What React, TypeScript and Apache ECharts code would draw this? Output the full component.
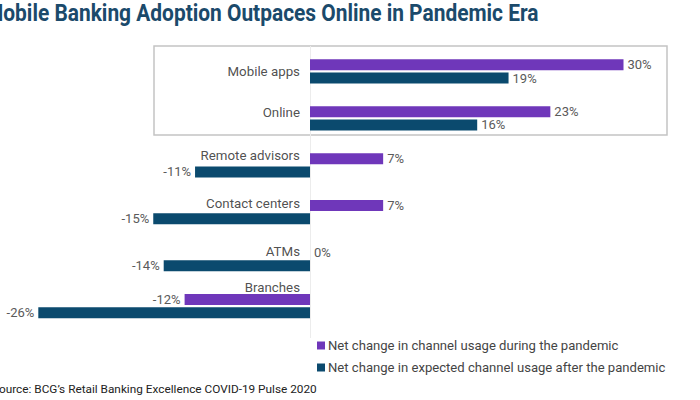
import React, { useEffect, useRef } from "react";
import * as echarts from "echarts";

const categories = ["Mobile apps", "Online", "Remote advisors", "Contact centers", "ATMs", "Branches"];
const duringValues = [30, 23, 7, 7, 0, -12];
const afterValues = [19, 16, -11, -15, -14, -26];
const seriesNames = [
  "Net change in channel usage during the pandemic",
  "Net change in expected channel usage after the pandemic",
];
const titleText = "Mobile Banking Adoption Outpaces Online in Pandemic Era";
const sourceText = "Source: BCG\u2019s Retail Banking Excellence COVID-19 Pulse 2020";

const labelOffsets = [0, -6, -10, -9, -8, -19];

const PURPLE = "#6f37ba";
const TEAL = "#0b4a6e";

export default function App() {
  const ref = useRef<HTMLDivElement>(null);
  useEffect(() => {
    if (!ref.current) return;
    const chart = echarts.init(ref.current, undefined, { renderer: "svg" });
    const valLabel = (v: number) => ({
      value: v,
      label: { position: v < 0 ? "left" : "right" },
    });
    chart.setOption({
      animation: false,
      textStyle: { fontFamily: "Roboto" },
      grid: { left: 17.4, right: 34.7, top: 48, bottom: 70.5, containLabel: false },
      xAxis: {
        type: "value",
        min: -28,
        max: 34,
        show: false,
      },
      yAxis: {
        type: "category",
        data: categories,
        inverse: true,
        axisLabel: { show: false },
        axisTick: { show: false },
        axisLine: { show: false },
        splitLine: { show: false },
      },
      legend: {
        orient: "vertical",
        left: 312,
        top: 334,
        itemWidth: 8,
        itemHeight: 8,
        itemGap: 9,
        icon: "rect",
        data: seriesNames,
        textStyle: { fontFamily: "Roboto", fontSize: 13.1, color: "#444", padding: [0, 0, 0, -2] },
      },
      graphic: [
        {
          type: "rect",
          shape: { x: 154, y: 46, width: 513, height: 89 },
          style: { fill: "none", stroke: "#c4c4c4", lineWidth: 1.5 },
          z: 0,
        },
        {
          type: "line",
          shape: { x1: 310.5, y1: 46, x2: 310.5, y2: 338 },
          style: { stroke: "#ececec", lineWidth: 1 },
          z: 0,
        },
        {
          type: "text",
          x: -15,
          y: 2,
          scaleX: 0.91,
          style: {
            text: titleText,
            fontFamily: "Roboto",
            fontWeight: "bold",
            fontSize: 23,
            fill: "#1b4a6b",
          },
        },
        {
          type: "text",
          x: -8,
          y: 383,
          style: {
            text: sourceText,
            fontFamily: "Roboto",
            fontSize: 11.8,
            fill: "#222",
          },
        },
      ],
      series: [
        {
          name: seriesNames[0],
          type: "bar",
          data: duringValues.map(valLabel),
          barWidth: 11,
          barGap: "20%",
          itemStyle: { color: PURPLE },
          label: {
            show: true,
            distance: 4,
            formatter: "{c}%",
            fontFamily: "Roboto",
            fontSize: 13,
            color: "#5a5a5a",
          },
        },
        {
          name: seriesNames[1],
          type: "bar",
          data: afterValues.map(valLabel),
          barWidth: 11,
          barGap: "20%",
          itemStyle: { color: TEAL },
          label: {
            show: true,
            distance: 4,
            formatter: "{c}%",
            fontFamily: "Roboto",
            fontSize: 13,
            color: "#5a5a5a",
          },
        },
        {
          type: "scatter",
          symbolSize: 0,
          silent: true,
          data: categories.map((c, i) => ({
            value: [0, c],
            label: { offset: [0, labelOffsets[i]] },
          })),
          label: {
            show: true,
            position: "left",
            distance: 10,
            formatter: (p: any) => p.value[1],
            fontFamily: "Roboto",
            fontSize: 13.3,
            color: "#222",
          },
        },
      ],
    });
    return () => chart.dispose();
  }, []);
  return <div ref={ref} style={{ width: 700, height: 400, position: "absolute", left: 0, top: 0 }} />;
}
